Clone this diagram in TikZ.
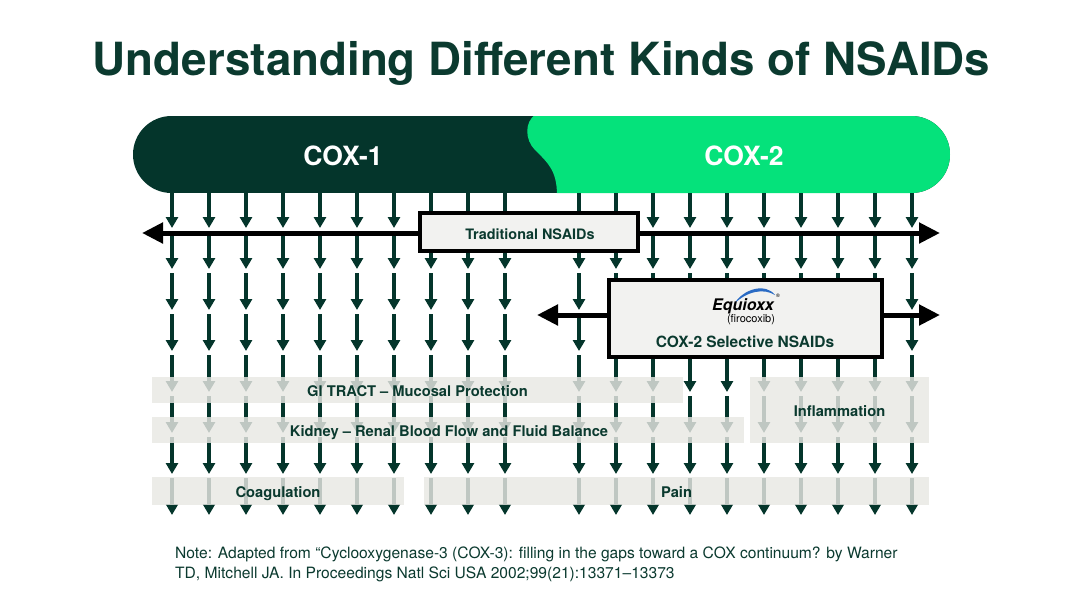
\documentclass[tikz,border=0pt]{standalone}
\usepackage{fontspec}
\setmainfont{TeX Gyre Heros}
\usetikzlibrary{arrows.meta}
\definecolor{dkgreen}{HTML}{04352B}
\definecolor{brgreen}{HTML}{05E27B}
\definecolor{txtgreen}{HTML}{0B3A2F}
\definecolor{bandgray}{HTML}{E9E8E4}
\definecolor{boxgray}{HTML}{F2F2F0}
\definecolor{logoblue}{HTML}{2A6BC4}
\begin{document}
\begin{tikzpicture}[x=1pt,y=-1pt,
  varrow/.style={draw=dkgreen, line width=3.4pt, -{Triangle[width=12pt,length=11pt]}},
  harrow/.style={draw=black, line width=5pt, {Triangle[width=20pt,length=21pt]}-{Triangle[width=20pt,length=21pt]}},
  band/.style={fill=bandgray, fill opacity=0.82, draw=none, inner sep=0pt},
  bandlabel/.style={text=txtgreen, font=\bfseries\fontsize{14.7}{17}\selectfont, inner sep=0pt, anchor=base},
  nsaidbox/.style={draw=black, line width=3.5pt, fill=boxgray, inner sep=0pt},
  coxlabel/.style={text=white, font=\bfseries\fontsize{26.5}{30}\selectfont, inner sep=0pt, anchor=base},
  notetext/.style={text=txtgreen, font=\fontsize{15.6}{18}\selectfont, inner sep=0pt, anchor=base west},
]
\fill[white] (0,0) rectangle (1080,606);
\useasboundingbox (0,0) rectangle (1080,606);

% title
\node[text=txtgreen, font=\bfseries\fontsize{45.7}{50}\selectfont, inner sep=0pt, anchor=base] (title) at (541.5,75) {Understanding Different Kinds of NSAIDs};

% COX bar
\begin{scope}
\clip[rounded corners=38.5pt] (133,116) rectangle (950,193);
\fill[dkgreen] (133,116) rectangle (950,193);
\fill[brgreen] (536,114) .. controls (524,122) and (525,140) .. (535,150)
   .. controls (547,162) and (557,170) .. (557,195) -- (960,195) -- (960,114) -- cycle;
\end{scope}
\node[coxlabel] (cox1) at (343,165) {COX-1};
\node[coxlabel] (cox2) at (744,165) {COX-2};

% vertical arrow columns
\foreach \x in {172,209,246,283,320,357,394,431,468,505,579,616,653,690,727,764,801,838,875,912}{
  \draw[varrow] (\x,193) -- (\x,228);
  \foreach \k in {1,...,7}{
    \draw[varrow] (\x,{228+41*(\k-1)+4}) -- (\x,{228+41*\k});
  }
}

% bands
\node[band, minimum width=531pt, minimum height=26pt] (giband) at (417.5,390) {};
\node[band, minimum width=592pt, minimum height=26pt] (kidband) at (448,430) {};
\node[band, minimum width=179pt, minimum height=66pt] (infband) at (839.5,410) {};
\node[band, minimum width=252pt, minimum height=28pt] (coaband) at (278,491) {};
\node[band, minimum width=505pt, minimum height=28pt] (painband) at (676.5,491) {};
\node[bandlabel] (gilab) at (417.5,396) {GI TRACT -- Mucosal Protection};
\node[bandlabel] (kidlab) at (449,436) {Kidney -- Renal Blood Flow and Fluid Balance};
\node[bandlabel] (inflab) at (839.5,416) {Inflammation};
\node[bandlabel] (coalab) at (278,497) {Coagulation};
\node[bandlabel] (painlab) at (676.5,497) {Pain};

% traditional NSAIDs
\coordinate (tl) at (142,233);
\coordinate (tr) at (940,233);
\draw[harrow] (tl) -- (tr);
\node[nsaidbox, minimum width=218pt, minimum height=38pt] (tradbox) at (529,232) {};
\node[text=txtgreen, font=\bfseries\fontsize{14.4}{17}\selectfont, inner sep=0pt, anchor=base] (tradlab) at (530,239) {Traditional NSAIDs};

% COX-2 selective
\coordinate (sl) at (537,315);
\coordinate (sr) at (940,315);
\draw[harrow] (sl) -- (sr);
\node[nsaidbox, minimum width=273pt, minimum height=77pt] (selbox) at (745.5,318.5) {};
\fill[logoblue] (734,304) .. controls (744,288) and (766,283) .. (775,295)
   .. controls (764,288) and (747,291) .. cycle;
\node[text=black, font=\bfseries\itshape\fontsize{16}{18}\selectfont, inner sep=0pt, anchor=base] (equi) at (743,310) {Equioxx};
\node[text=black, font=\fontsize{5}{6}\selectfont, inner sep=0pt] (reg) at (778,296) {®};
\node[text=black, font=\fontsize{11}{13}\selectfont, inner sep=0pt, anchor=base] (firo) at (751,322.5) {(firocoxib)};
\node[text=txtgreen, font=\bfseries\fontsize{15.5}{17}\selectfont, inner sep=0pt, anchor=base] (sellab) at (745,347) {COX-2 Selective NSAIDs};

% note
\node[notetext] (note1) at (175,558) {Note: Adapted from “Cyclooxygenase-3 (COX-3): filling in the gaps toward a COX continuum? by Warner};
\node[notetext] (note2) at (175,578) {TD, Mitchell JA. In Proceedings Natl Sci USA 2002;99(21):13371–13373};
\end{tikzpicture}
\end{document}
